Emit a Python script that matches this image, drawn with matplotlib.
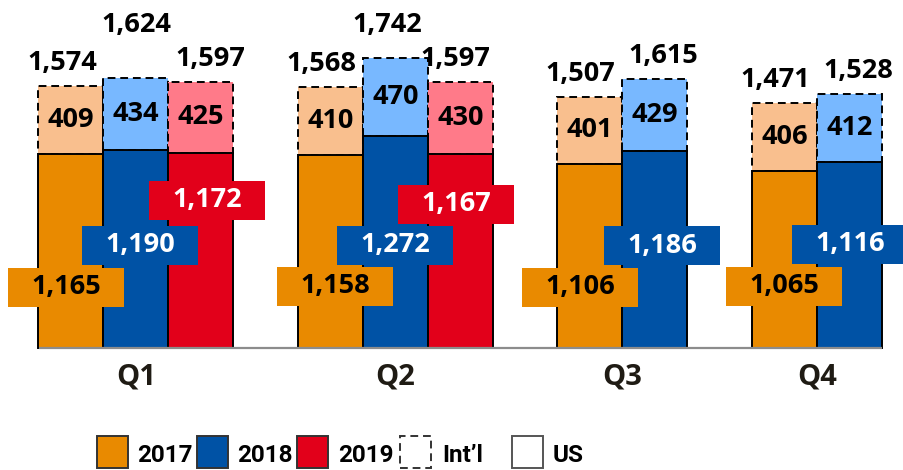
import matplotlib
matplotlib.use("Agg")
import matplotlib.pyplot as plt
from matplotlib.patches import Rectangle

# ---- data ----
quarters = ["Q1", "Q2", "Q3", "Q4"]
years = ["2017", "2018", "2019"]
us_2017 = [1165, 1158, 1106, 1065]
intl_2017 = [409, 410, 401, 406]
us_2018 = [1190, 1272, 1186, 1116]
intl_2018 = [434, 470, 429, 412]
us_2019 = [1172, 1167]
intl_2019 = [425, 430]
legend_labels = ["2017", "2018", "2019", "Int\u2019l", "US"]

# ---- styling ----
C_US = {"2017": "#E98A00", "2018": "#0052A5", "2019": "#E2001A"}
C_INTL = {"2017": "#F9BF8E", "2018": "#78B8FF", "2019": "#FF7A89"}
TXT_US = {"2017": "black", "2018": "white", "2019": "white"}
FONT = ["Open Sans", "DejaVu Sans"]
NARROW = ["Roboto", "DejaVu Sans"]

W, H = 904, 470
BASE = 348          # baseline pixel row from top
U = 1 / 0.1665      # data units per pixel

fig = plt.figure(figsize=(W / 100, H / 100), dpi=100)
ax = fig.add_axes([0, 0, 1, 1])
ax.set_xlim(0, W)
ax.set_ylim(-(H - BASE) * U, BASE * U)
ax.axis("off")

def py(p):  # pixel row -> data y
    return (BASE - p) * U

group_centers = [136, 395.5, 622.5, 817]
BW = 65
FS = 19.5

series = {
    "2017": (us_2017, intl_2017),
    "2018": (us_2018, intl_2018),
    "2019": (us_2019, intl_2019),
}

# label placement tweaks (pixels)
box_dx = {"2017": [-5, 4.5, -10, -0.5], "2018": [4.5, -0.5, 7, 0.5], "2019": [6.5, -4.5]}
box_row = {"2017": [287, 286.5, 287, 286.5], "2018": [245, 245, 245.5, 244], "2019": [200.5, 204.5]}
tot_dx = {"2017": [-9, -9.5, -10, -9.5], "2018": [0.5, -8, 8.5, 8.5], "2019": [9.5, -5]}
tot_row = {"2017": [None] * 4, "2018": [25, 25, None, None], "2019": [None, None]}

for qi, gc in enumerate(group_centers):
    n = 3 if qi < 2 else 2
    xs = [gc + (k - (n - 1) / 2) * BW for k in range(n)]
    for k in range(n):
        yr = years[k]
        us, intl = series[yr]
        x = xs[k]
        u, it = us[qi], intl[qi]
        ax.bar(x, it, bottom=u, width=BW, color=C_INTL[yr], edgecolor="black",
               linewidth=1.4, linestyle=(0, (4, 2.5)), zorder=2)
        ax.bar(x, u, width=BW, color=C_US[yr], edgecolor="black", linewidth=1.4, zorder=3)
        # intl label
        ax.text(x, u + it / 2, f"{it:,}", ha="center", va="center", fontsize=FS,
                fontweight="bold", family=FONT, color="black", zorder=6)
        # total label
        tot = u + it
        ty = py(tot_row[yr][qi]) if tot_row[yr][qi] else tot + 23 * U
        ax.text(x + tot_dx[yr][qi], ty, f"{tot:,}", ha="center", va="center",
                fontsize=FS, fontweight="bold", family=FONT, color="black", zorder=6)
        # US label box
        bx = x + box_dx[yr][qi]
        by = py(box_row[yr][qi])
        ax.add_patch(Rectangle((bx - 58, by - 19.5 * U), 116, 39 * U,
                               facecolor=C_US[yr], edgecolor="none", zorder=5))
        ax.text(bx, by, f"{u:,}", ha="center", va="center", fontsize=FS,
                fontweight="bold", family=FONT, color=TXT_US[yr], zorder=6)

# baseline
ax.plot([39, 882], [0, 0], color="#8C8C8C", linewidth=1.6, zorder=4, solid_capstyle="butt")

# category labels
for q, gc in zip(quarters, group_centers):
    ax.text(gc, py(377), q, ha="center", va="center", fontsize=21, fontweight="bold",
            family=FONT, color="#1F1B14")

# legend
leg_x = [97, 197, 297, 400, 512]
txt_x = [137, 237, 338, 442, 553]
styles = [
    dict(facecolor=C_US["2017"], edgecolor="#333333", linestyle="-"),
    dict(facecolor=C_US["2018"], edgecolor="#333333", linestyle="-"),
    dict(facecolor=C_US["2019"], edgecolor="#333333", linestyle="-"),
    dict(facecolor="white", edgecolor="#333333", linestyle=(0, (4, 2.5))),
    dict(facecolor="white", edgecolor="#555555", linestyle="-"),
]
for lx, tx, lab, st in zip(leg_x, txt_x, legend_labels, styles):
    ax.add_patch(Rectangle((lx, py(468)), 31, 32 * U, linewidth=1.4, zorder=5, **st))
    ax.text(tx, py(456), lab, ha="left", va="center", fontsize=17.5, fontweight="bold",
            family=NARROW, color="black")

fig.savefig("out.png", dpi=100)
